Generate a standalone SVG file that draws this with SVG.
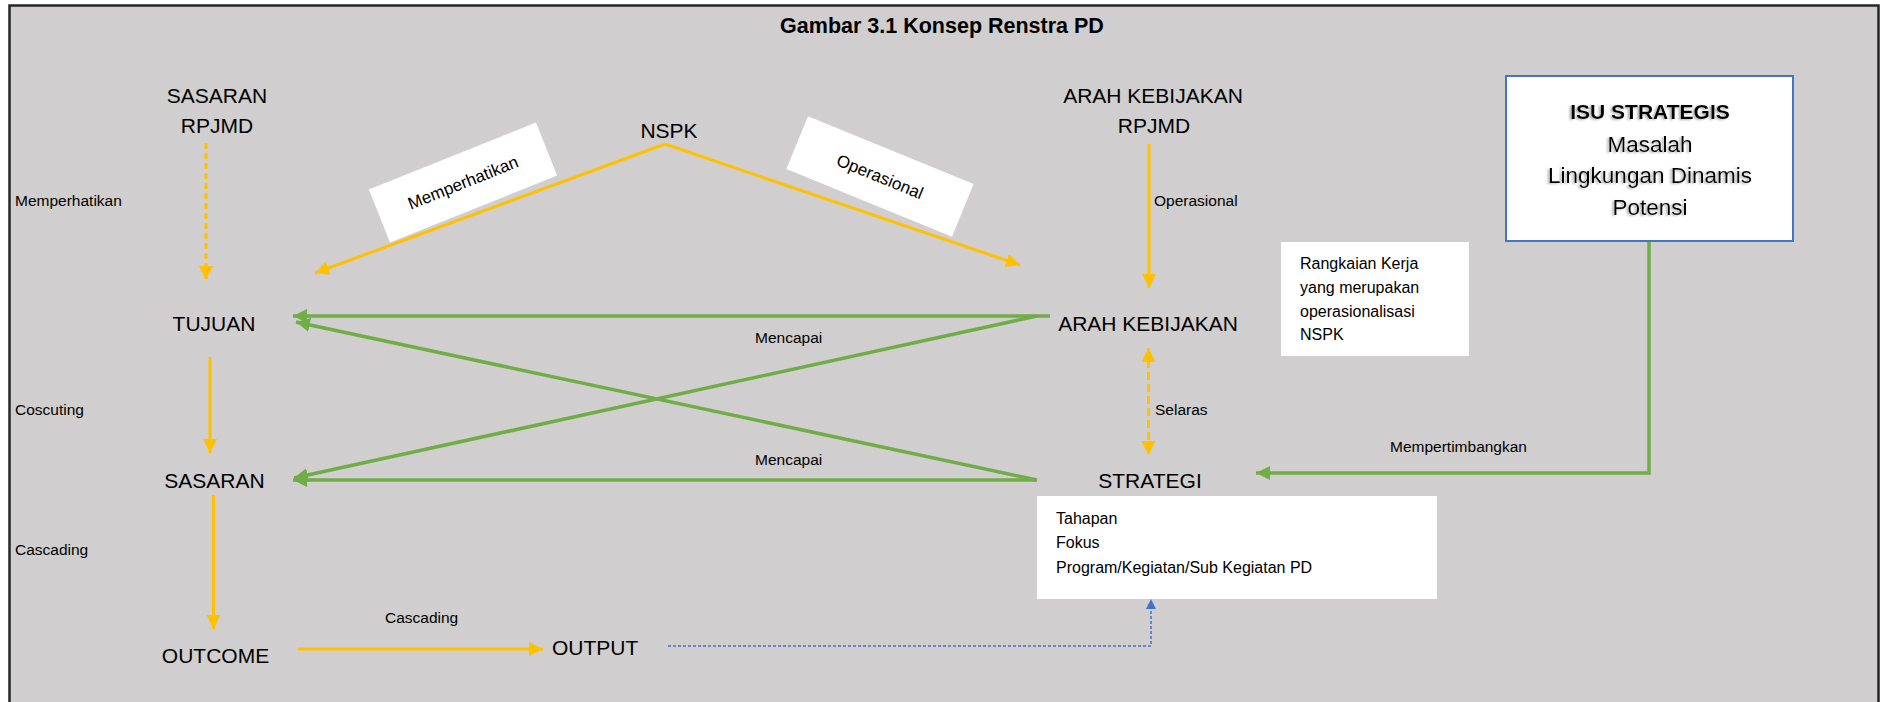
<svg xmlns="http://www.w3.org/2000/svg" width="1880" height="702" viewBox="0 0 1880 702">
<style>
text{font-family:"Liberation Sans",Arial,sans-serif;fill:#000;}
.node{font-size:21px;}
.lbl{font-size:15.5px;}
.box{font-size:16px;}
.c{text-anchor:middle;}
.y{stroke:#FFC000;stroke-width:3;fill:none;}
.g{stroke:#70AD47;stroke-width:3.5;fill:none;}
.wb{fill:#fff;}
</style>
<defs>
<marker id="ay" markerUnits="userSpaceOnUse" markerWidth="16" markerHeight="16" refX="14" refY="7" orient="auto-start-reverse"><path d="M0,0 L14,7 L0,14 z" fill="#FFC000"/></marker>
<marker id="ag" markerUnits="userSpaceOnUse" markerWidth="16" markerHeight="16" refX="14" refY="7" orient="auto"><path d="M0,0 L14,7 L0,14 z" fill="#70AD47"/></marker>
<marker id="ab" markerUnits="userSpaceOnUse" markerWidth="12" markerHeight="12" refX="10" refY="5" orient="auto"><path d="M0,0 L10,5 L0,10 z" fill="#4472C4"/></marker>
<filter id="sh" x="-10%" y="-30%" width="120%" height="160%"><feDropShadow dx="-2" dy="1" stdDeviation="1" flood-color="#7f7f7f" flood-opacity="0.6"/></filter>
</defs>
<rect x="9.5" y="5.5" width="1869" height="720" fill="#D0CECE" stroke="#262626" stroke-width="2.5"/>
<text x="942" y="33" class="c" style="font-size:21.5px;font-weight:bold">Gambar 3.1 Konsep Renstra PD</text>

<g id="connectors">
<line class="y" x1="206" y1="143" x2="206" y2="280" stroke-width="2" stroke-dasharray="6,4" marker-end="url(#ay)"/>
<line class="y" x1="210" y1="357" x2="210" y2="453" marker-end="url(#ay)"/>
<line class="y" x1="213.5" y1="495" x2="213.5" y2="629" marker-end="url(#ay)"/>
<line class="y" x1="298" y1="649" x2="543" y2="649" marker-end="url(#ay)"/>
<line class="y" x1="665" y1="144" x2="315" y2="273" marker-end="url(#ay)"/>
<line class="y" x1="665" y1="144" x2="1020" y2="265" marker-end="url(#ay)"/>
<line class="y" x1="1149" y1="144" x2="1149" y2="288" marker-end="url(#ay)"/>
<line class="y" x1="1148.5" y1="348" x2="1148.5" y2="455" stroke-dasharray="8,4" marker-start="url(#ay)" marker-end="url(#ay)"/>
<line class="g" x1="1050" y1="316" x2="293" y2="316" marker-end="url(#ag)"/>
<line class="g" x1="1037" y1="480" x2="296" y2="322" marker-end="url(#ag)"/>
<line class="g" x1="1037" y1="316" x2="294" y2="478" marker-end="url(#ag)"/>
<line class="g" x1="1037" y1="480" x2="293" y2="480" marker-end="url(#ag)"/>
<polyline class="g" points="1649,242 1649,473 1256,473" marker-end="url(#ag)"/>
<polyline points="668,646 1151,646 1151,599" fill="none" stroke="#4472C4" stroke-width="1.5" stroke-dasharray="3,2" marker-end="url(#ab)"/>
<text x="15" y="206" class="lbl">Memperhatikan</text>
<text x="1154" y="206" class="lbl">Operasional</text>
<text x="755" y="343" class="lbl">Mencapai</text>
<text x="755" y="465" class="lbl">Mencapai</text>
<text x="15" y="415" class="lbl">Coscuting</text>
<text x="1155" y="415" class="lbl">Selaras</text>
<text x="1390" y="452" class="lbl">Mempertimbangkan</text>
<text x="15" y="555" class="lbl">Cascading</text>
<text x="385" y="623" class="lbl">Cascading</text>
<g transform="translate(463,182.5) rotate(-21.8)">
<rect x="-90" y="-28.5" width="180" height="57" class="wb"/>
<text x="0" y="6" class="c" style="font-size:17px">Memperhatikan</text>
</g>
<g transform="translate(880,176.5) rotate(22.3)">
<rect x="-89.5" y="-28.5" width="179" height="57" class="wb"/>
<text x="0" y="6" class="c" style="font-size:17px">Operasional</text>
</g>
</g>

<g id="sasaran-rpjmd"><text x="217" y="103" class="node c">SASARAN</text><text x="217" y="133" class="node c">RPJMD</text></g>
<g id="nspk"><text x="669" y="138" class="node c">NSPK</text></g>
<g id="arah-rpjmd"><text x="1153" y="103" class="node c">ARAH KEBIJAKAN</text><text x="1154" y="133" class="node c">RPJMD</text></g>
<g id="isu">
<rect x="1506" y="76" width="287" height="165" fill="#fff" stroke="#4472C4" stroke-width="2"/>
<g filter="url(#sh)">
<text x="1650" y="119" class="c" style="font-size:21px;font-weight:bold">ISU STRATEGIS</text>
<text x="1650" y="152" class="c" style="font-size:22.5px">Masalah</text>
<text x="1650" y="183" class="c" style="font-size:22.5px">Lingkungan Dinamis</text>
<text x="1650" y="215" class="c" style="font-size:22.5px">Potensi</text>
</g>
</g>
<g id="rangkaian">
<rect x="1281" y="242" width="188" height="114" class="wb"/>
<text x="1300" y="269" class="box">Rangkaian Kerja</text>
<text x="1300" y="293" class="box">yang merupakan</text>
<text x="1300" y="317" class="box">operasionalisasi</text>
<text x="1300" y="340" class="box">NSPK</text>
</g>
<g id="tujuan"><text x="214" y="331" class="node c">TUJUAN</text></g>
<g id="arah"><text x="1148" y="331" class="node c">ARAH KEBIJAKAN</text></g>
<g id="sasaran"><text x="214.5" y="488" class="node c">SASARAN</text></g>
<g id="strategi"><text x="1150" y="488" class="node c">STRATEGI</text></g>
<g id="tahapan">
<rect x="1037" y="496" width="400" height="103" class="wb"/>
<text x="1056" y="524" class="box">Tahapan</text>
<text x="1056" y="548" class="box">Fokus</text>
<text x="1056" y="573" class="box">Program/Kegiatan/Sub Kegiatan PD</text>
</g>
<g id="outcome"><text x="215.5" y="663" class="node c">OUTCOME</text></g>
<g id="output"><text x="552" y="655" class="node">OUTPUT</text></g>
</svg>
